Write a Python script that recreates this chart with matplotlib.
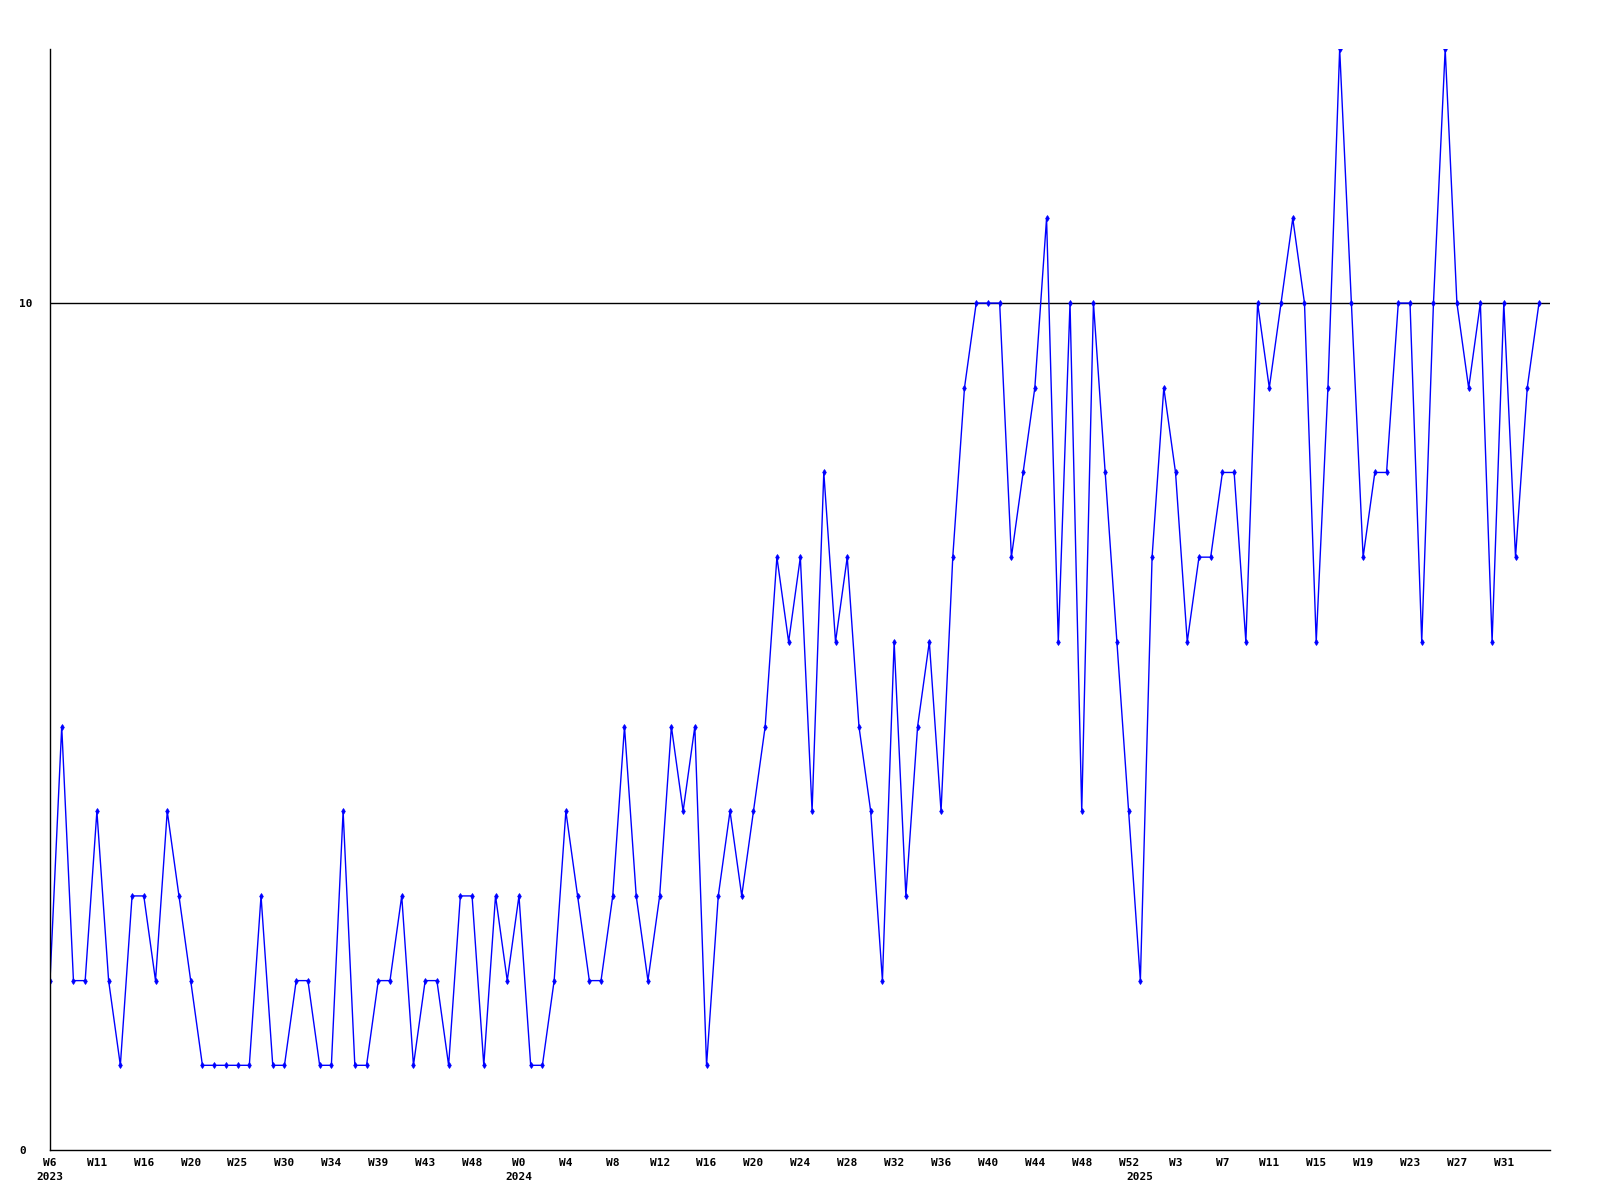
import matplotlib
matplotlib.use("Agg")
import matplotlib.pyplot as plt
import matplotlib.transforms as mtransforms

# weekly counts, 2023 W6 .. 2025 W34
values = [
    2, 5, 2, 2, 4, 2, 1, 3, 3, 2, 4, 3, 2, 1, 1, 1, 1, 1, 3, 1,
    1, 2, 2, 1, 1, 4, 1, 1, 2, 2, 3, 1, 2, 2, 1, 3, 3, 1, 3, 2,
    3, 1, 1, 2, 4, 3, 2, 2, 3, 5, 3, 2, 3, 5, 4, 5, 1, 3, 4, 3,
    4, 5, 7, 6, 7, 4, 8, 6, 7, 5, 4, 2, 6, 3, 5, 6, 4, 7, 9, 10,
    10, 10, 7, 8, 9, 11, 6, 10, 4, 10, 8, 6, 4, 2, 7, 9, 8, 6, 7, 7,
    8, 8, 6, 10, 9, 10, 11, 10, 6, 9, 13, 10, 7, 8, 8, 10, 10, 6, 10, 13,
    10, 9, 10, 6, 10, 7, 9, 10,
]

week_labels = [
    "W6", "W11", "W16", "W20", "W25", "W30", "W34", "W39", "W43", "W48",
    "W0", "W4", "W8", "W12", "W16", "W20", "W24", "W28", "W32", "W36",
    "W40", "W44", "W48", "W52",
    "W3", "W7", "W11", "W15", "W19", "W23", "W27", "W31",
]
year_labels = ["2023", "2024", "2025"]
year_index = [0, 40, 93]

font = {"family": "DejaVu Sans Mono", "weight": "bold", "size": 8}

fig = plt.figure(figsize=(16, 12), dpi=100)
ax = fig.add_axes([50 / 1600, 50 / 1200, 1500 / 1600, 1101 / 1200])

x = list(range(len(values)))
ax.plot(x, values, color="#0000ff", linewidth=1.0, marker="d", markersize=3,
        markeredgewidth=0.6)
ax.axhline(10, color="black", linewidth=1.0, zorder=0)

ax.set_xlim(0, len(values) - 1 + 0.94)
ax.set_ylim(0, 13)

for side in ["top", "right"]:
    ax.spines[side].set_visible(False)
for side in ["left", "bottom"]:
    ax.spines[side].set_linewidth(1.0)
    ax.spines[side].set_color("black")

ax.set_yticks([0, 10])
ax.set_yticklabels(["0", "10"], fontdict=font)
for lab in ax.get_yticklabels():
    lab.set_horizontalalignment("left")
ax.tick_params(axis="y", length=0, pad=22)

ax.set_xticks(x[::4][:len(week_labels)])
ax.set_xticklabels(week_labels, fontdict=font)
ax.tick_params(axis="x", length=0, pad=6)

trans = mtransforms.blended_transform_factory(ax.transData, ax.transAxes)
offset = mtransforms.ScaledTranslation(0, -0.27, fig.dpi_scale_trans)
for label, idx in zip(year_labels, year_index):
    ax.text(idx, 0, label, transform=trans + offset, ha="center", va="center",
            **font)

fig.savefig("out.png", dpi=100)
